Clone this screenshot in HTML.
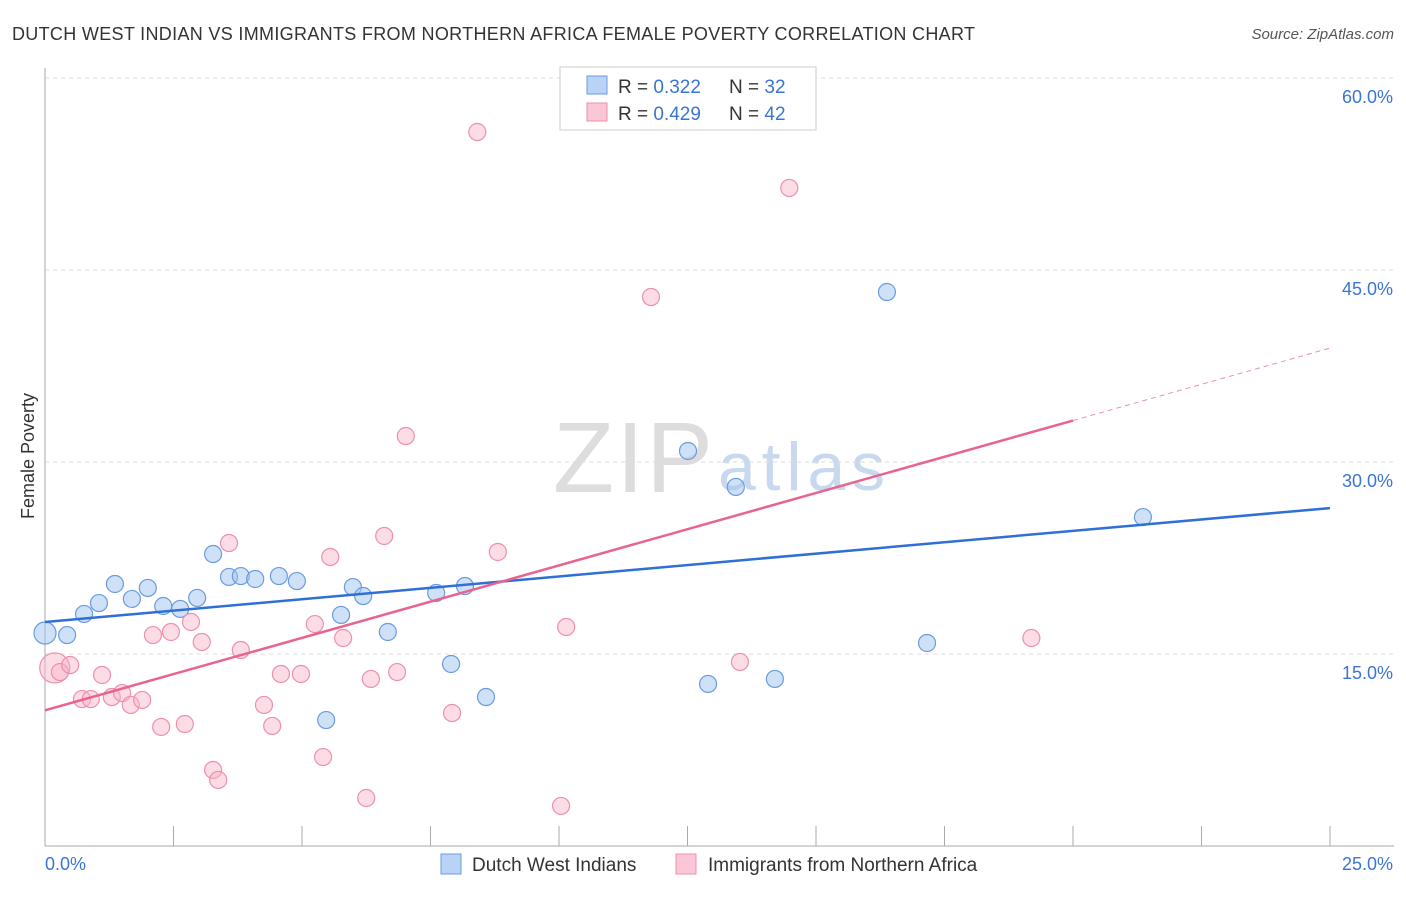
<!DOCTYPE html>
<html><head><meta charset="utf-8"><style>
body{margin:0;background:#fff;font-family:"Liberation Sans",sans-serif;}
svg text{font-family:"Liberation Sans",sans-serif;}
</style></head><body>
<svg id="chart" width="1406" height="892">
<text x="12" y="40" font-size="18" fill="#333" textLength="963">DUTCH WEST INDIAN VS IMMIGRANTS FROM NORTHERN AFRICA FEMALE POVERTY CORRELATION CHART</text>
<text x="1394" y="39" font-size="15" fill="#555" font-style="italic" text-anchor="end">Source: ZipAtlas.com</text>
<text x="34" y="456" font-size="18" fill="#333" text-anchor="middle" transform="rotate(-90 34 456)">Female Poverty</text>
<text x="553" y="492" font-size="100" fill="#ddd" font-family="Liberation Serif" textLength="160">ZIP</text>
<text x="718" y="490" font-size="68" fill="#c8d8ee" textLength="167">atlas</text>
<g id="grid"></g><g id="axes"></g><g id="pts"></g><g id="lines"></g>
<g>
<rect x="560" y="67" width="256" height="63" fill="#fff" stroke="#ccc"/>
<rect x="587" y="76" width="20" height="18" fill="#b8d3f5" stroke="#6a9be0"/>
<rect x="587" y="103" width="20" height="18" fill="#fbc6d5" stroke="#ee8fab"/>
<text x="618" y="93" font-size="19" fill="#333">R = <tspan fill="#3a75d4">0.322</tspan><tspan x="729">N = </tspan><tspan fill="#3a75d4">32</tspan></text>
<text x="618" y="120" font-size="19" fill="#333">R = <tspan fill="#3a75d4">0.429</tspan><tspan x="729">N = </tspan><tspan fill="#3a75d4">42</tspan></text>
</g>
<g>
<rect x="441" y="854" width="20" height="20" fill="#b8d3f5" stroke="#6a9be0"/>
<text x="472" y="871" font-size="19" fill="#333">Dutch West Indians</text>
<rect x="676" y="854" width="20" height="20" fill="#fbc6d5" stroke="#ee8fab"/>
<text x="708" y="871" font-size="19" fill="#333">Immigrants from Northern Africa</text>
</g>
</svg>
<script>
const blueX=[0.0,0.43,0.76,1.05,1.36,1.69,2.00,2.30,2.63,2.96,3.27,3.58,3.81,4.09,4.55,4.90,5.76,5.99,6.19,6.67,7.61,7.90,8.17,8.58,5.47,12.51,13.44,16.38,12.90,14.20,17.16,21.36];
const blueY=[16.64,16.48,18.13,18.98,20.47,19.30,20.16,18.75,18.52,19.38,22.81,21.02,21.09,20.86,21.09,20.70,18.05,20.23,19.53,16.72,19.77,14.22,20.31,11.64,9.84,30.86,28.05,43.28,12.66,13.05,15.86,25.70];
const pinkX=[0.19,0.29,0.49,0.72,0.89,1.11,1.30,1.50,1.67,1.89,2.10,2.26,2.45,2.72,2.84,3.05,3.27,3.37,3.58,3.81,4.26,4.42,4.59,4.98,5.25,5.41,5.55,5.80,6.25,6.34,6.60,6.85,7.02,7.92,8.41,8.81,10.14,10.04,11.79,13.52,14.48,19.19];
const pinkY=[13.91,13.59,14.14,11.48,11.48,13.36,11.64,11.95,11.02,11.41,16.48,9.30,16.72,9.53,17.50,15.94,5.94,5.16,23.67,15.31,11.02,9.38,13.44,13.44,17.34,6.95,22.58,16.25,3.75,13.05,24.22,13.59,32.03,10.39,55.78,22.97,17.11,3.13,42.89,14.38,51.41,16.25];
const yTicks=[15,30,45,60];
const yTickLabels=["15.0%","30.0%","45.0%","60.0%"];
const xTickLabels=["0.0%","25.0%"];
const blueTrend=[17.5,26.4];
const pinkTrend=[10.6,38.9];
const pinkSolidEnd=20.0;
const NS="http://www.w3.org/2000/svg";
const X=v=>45+v/25*1285, Y=v=>846-v/15*192;
function mk(t,a,p){const e=document.createElementNS(NS,t);for(const k in a)e.setAttribute(k,a[k]);p.appendChild(e);return e;}
const grid=document.getElementById('grid'),axes=document.getElementById('axes');
yTicks.forEach((t,i)=>{
 const l=mk('line',{x1:45,x2:1394,y1:Y(t),y2:Y(t),stroke:'#ddd','stroke-dasharray':'4,4'},grid);
 
 
 const tx=mk('text',{x:1393,y:Y(t)+25,'font-size':18,fill:'#3a75d4','text-anchor':'end'},axes);
 tx.textContent=yTickLabels[i];
 
 
});
mk('line',{x1:45,x2:45,y1:68,y2:846,stroke:'#aaa'},axes);
mk('line',{x1:45,x2:1394,y1:846,y2:846,stroke:'#aaa'},axes);
for(let i=0;i<=10;i++){mk('line',{x1:X(i*2.5),x2:X(i*2.5),y1:826,y2:846,stroke:'#aaa'},axes);}
[[45,'start'],[1393,'end']].forEach((p,i)=>{const t=mk('text',{x:p[0],y:870,'font-size':18,fill:'#3a75d4','text-anchor':p[1]},axes);t.textContent=xTickLabels[i];

});
const pts=document.getElementById('pts');
blueX.forEach((x,i)=>{const c=mk('circle',{cx:X(x),cy:Y(blueY[i]),r:i==0?11:8.5,fill:'rgba(160,196,240,0.5)',stroke:'#6a9be0','stroke-width':1.2},pts);

});
pinkX.forEach((x,i)=>{const c=mk('circle',{cx:X(x),cy:Y(pinkY[i]),r:i==0?15:8.5,fill:'rgba(248,180,200,0.45)',stroke:'#ee8fab','stroke-width':1.2},pts);

});
const lines=document.getElementById('lines');
const bl=mk('line',{x1:X(0),y1:Y(blueTrend[0]),x2:X(25),y2:Y(blueTrend[1]),stroke:'#2f6fd6','stroke-width':2.5},lines);


const pe=pinkTrend[0]+(pinkTrend[1]-pinkTrend[0])*pinkSolidEnd/25;
const pl=mk('line',{x1:X(0),y1:Y(pinkTrend[0]),x2:X(pinkSolidEnd),y2:Y(pe),stroke:'#e8648e','stroke-width':2.5},lines);


const pd=mk('line',{x1:X(pinkSolidEnd),y1:Y(pe),x2:X(25),y2:Y(pinkTrend[1]),stroke:'#ee8fab','stroke-width':1,'stroke-dasharray':'5,4'},lines);


</script>
</body></html>
